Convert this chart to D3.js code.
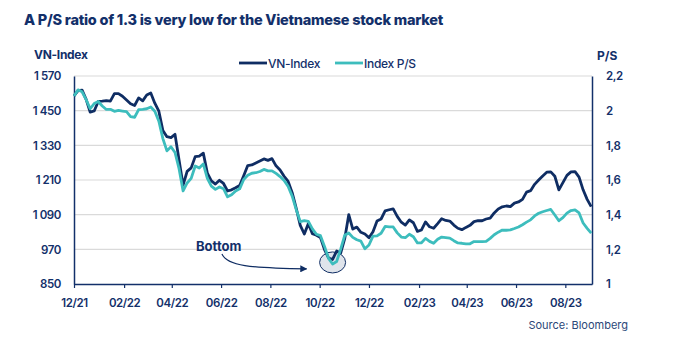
<!DOCTYPE html>
<html>
<head>
<meta charset="utf-8">
<script src="https://cdn.jsdelivr.net/npm/d3@7"></script>
<style>
  html, body { margin: 0; padding: 0; background: #ffffff; }
  svg { display: block; font-family: Inter, "Open Sans", sans-serif; }
</style>
</head>
<body>
<svg id="chart" width="673" height="349"></svg>
<script>
// Observation grid: one value every 5 calendar days from 1 Dec 2021
const startDate = "2021-12-01";
const stepDays = 5;

// VN-Index level (left axis)
const vnIndex = [
  1501, 1519, 1521, 1489, 1445, 1449, 1482, 1483, 1485, 1483,
  1509, 1509, 1500, 1487, 1474, 1468, 1494, 1484, 1504, 1511,
  1476, 1448, 1381, 1360, 1357, 1368, 1279, 1192, 1240, 1252,
  1291, 1293, 1303, 1234, 1207, 1196, 1209, 1198, 1172, 1176,
  1183, 1191, 1225, 1260, 1262, 1269, 1276, 1283, 1278, 1284,
  1259, 1245, 1223, 1205, 1166, 1112, 1053, 1023, 1059, 1024,
  1019, 1011, 969, 940, 935, 964, 957, 1007, 1090, 1040,
  1047, 1029, 1023, 1010, 1031, 1068, 1075, 1103, 1107, 1110,
  1084, 1064, 1054, 1072, 1062, 1032, 1037, 1065, 1048, 1043,
  1059, 1076, 1070, 1068, 1054, 1043, 1038, 1046, 1053, 1066,
  1069, 1069, 1075, 1078, 1096, 1110, 1117, 1120, 1118, 1130,
  1134, 1143, 1168, 1173, 1195, 1210, 1224, 1237, 1238, 1223,
  1176, 1201, 1226, 1238, 1239, 1220, 1176, 1143, 1118
];

// Index price-to-sales ratio (right axis)
const indexPS = [
  2.085, 2.120, 2.109, 2.064, 2.011, 2.041, 2.053, 2.027, 2.007, 2.008,
  1.996, 2.002, 1.998, 1.994, 1.966, 1.962, 2.006, 2.008, 2.011, 2.021,
  1.997, 1.939, 1.839, 1.768, 1.792, 1.759, 1.665, 1.537, 1.583, 1.609,
  1.681, 1.669, 1.693, 1.610, 1.565, 1.546, 1.560, 1.550, 1.503, 1.515,
  1.537, 1.549, 1.603, 1.627, 1.639, 1.642, 1.649, 1.661, 1.653, 1.653,
  1.638, 1.620, 1.597, 1.563, 1.507, 1.429, 1.360, 1.365, 1.361, 1.318,
  1.287, 1.279, 1.217, 1.148, 1.115, 1.130, 1.201, 1.281, 1.294, 1.269,
  1.255, 1.247, 1.203, 1.225, 1.276, 1.278, 1.293, 1.332, 1.330, 1.329,
  1.295, 1.271, 1.267, 1.287, 1.273, 1.237, 1.238, 1.263, 1.246, 1.235,
  1.258, 1.271, 1.268, 1.265, 1.250, 1.237, 1.235, 1.232, 1.232, 1.245,
  1.245, 1.244, 1.246, 1.263, 1.284, 1.299, 1.311, 1.310, 1.312, 1.320,
  1.329, 1.342, 1.357, 1.370, 1.393, 1.408, 1.417, 1.424, 1.430, 1.398,
  1.365, 1.383, 1.409, 1.424, 1.428, 1.410, 1.352, 1.321, 1.293
];

// Axis ticks
const monthTicks = ["12/21", "02/22", "04/22", "06/22", "08/22", "10/22",
                    "12/22", "02/23", "04/23", "06/23", "08/23"];
const vnTicks = [850, 970, 1090, 1210, 1330, 1450, 1570];
const psTicks = [1, 1.2, 1.4, 1.6, 1.8, 2, 2.2];

// Texts
const titleText = "A P/S ratio of 1.3 is very low for the Vietnamese stock market";
const seriesNames = ["VN-Index", "Index P/S"];
const leftAxisTitle = "VN-Index";
const rightAxisTitle = "P/S";
const sourceText = "Source: Bloomberg";
const annotationText = "Bottom";
const bottomDate = "2022-10-17";   // date of the low point that the note circles
const bottomValue = 935;           // VN-Index at that low

(function draw() {
  const NAVY = "#0f2d63";
  const TEAL = "#3dbdbd";
  const INK = "#13306a";
  const GRID = "#dadada";

  const svg = d3.select("#chart");
  const plotLeft = 74, plotRight = 592, plotTop = 76, plotBottom = 284;

  const parseDay = d3.timeParse("%Y-%m-%d");
  const parseMonth = d3.timeParse("%m/%y");
  const t0 = parseDay(startDate);
  const dates = vnIndex.map((_, i) => d3.timeDay.offset(t0, i * stepDays));

  const x = d3.scaleTime()
    .domain([t0, parseDay("2023-09-03")])
    .range([plotLeft, plotRight]);
  const yL = d3.scaleLinear().domain([850, 1570]).range([plotBottom, plotTop]);
  const yR = d3.scaleLinear().domain([1, 2.2]).range([plotBottom, plotTop]);

  const locale = d3.formatLocale({decimal: ",", thousands: "\u00a0", grouping: [3], currency: ["", ""]});
  const fmtL = locale.format(",d");
  const fmtR = locale.format(".1~f");

  // Title
  svg.append("text")
    .attr("x", 24).attr("y", 25)
    .attr("fill", INK)
    .attr("font-size", 14.5).attr("font-weight", 800)
    .attr("letter-spacing", -0.25)
    .text(titleText);

  // Gridlines
  svg.append("g")
    .selectAll("line")
    .data(vnTicks.slice(1))
    .join("line")
    .attr("x1", plotLeft).attr("x2", plotRight)
    .attr("y1", d => yL(d)).attr("y2", d => yL(d))
    .attr("stroke", GRID).attr("stroke-width", 1.2);

  // Left axis labels
  const gL = svg.append("g")
    .attr("transform", `translate(${plotLeft},0)`)
    .call(d3.axisLeft(yL).tickValues(vnTicks).tickFormat(fmtL).tickSize(0).tickPadding(13));
  gL.select(".domain").attr("stroke", INK).attr("stroke-width", 1.5);

  // Right axis labels
  const gR = svg.append("g")
    .attr("transform", `translate(${plotRight},0)`)
    .call(d3.axisRight(yR).tickValues(psTicks).tickFormat(fmtR).tickSize(0).tickPadding(14));
  gR.select(".domain").attr("stroke", INK).attr("stroke-width", 1.5);

  // Bottom axis
  const gX = svg.append("g")
    .attr("transform", `translate(0,${plotBottom})`)
    .call(d3.axisBottom(x)
      .tickValues(monthTicks.map(parseMonth))
      .tickFormat(d3.timeFormat("%m/%y"))
      .tickSize(4).tickSizeOuter(0).tickPadding(8));
  gX.select(".domain").attr("stroke", INK).attr("stroke-width", 1.5);
  gX.selectAll(".tick line").attr("stroke", INK).attr("stroke-width", 1.2);

  svg.selectAll(".tick text")
    .attr("fill", INK)
    .attr("font-size", 11.5)
    .attr("font-weight", 600)
    .attr("letter-spacing", -0.4)
    .attr("font-family", "Inter, sans-serif");
  gX.selectAll(".tick text").attr("dy", "0.95em");

  // Ellipse around the low point
  const ex = x(parseDay(bottomDate)), ey = yL(bottomValue) + 3;
  svg.append("ellipse")
    .attr("cx", ex).attr("cy", ey)
    .attr("rx", 13).attr("ry", 10.5)
    .attr("fill", "#dfe4eb")
    .attr("stroke", NAVY).attr("stroke-width", 1);

  // Series lines
  const lineVN = d3.line().x((d, i) => x(dates[i])).y(d => yL(d));
  const linePS = d3.line().x((d, i) => x(dates[i])).y(d => yR(d));

  svg.append("path")
    .datum(vnIndex)
    .attr("d", lineVN)
    .attr("fill", "none").attr("stroke", NAVY)
    .attr("stroke-width", 2.8).attr("stroke-linejoin", "round");

  svg.append("path")
    .datum(indexPS)
    .attr("d", linePS)
    .attr("fill", "none").attr("stroke", TEAL)
    .attr("stroke-width", 2.8).attr("stroke-linejoin", "round");

  // Annotation text and curved arrow
  svg.append("text")
    .attr("x", 196).attr("y", 251)
    .attr("fill", INK).attr("font-size", 13).attr("font-weight", 700)
    .text(annotationText);

  svg.append("defs").append("marker")
    .attr("id", "arrowHead")
    .attr("viewBox", "0 0 10 10")
    .attr("refX", 9).attr("refY", 5)
    .attr("markerWidth", 7).attr("markerHeight", 7)
    .attr("markerUnits", "userSpaceOnUse")
    .attr("orient", "auto")
    .append("path").attr("d", "M0,0 L10,5 L0,10 Z").attr("fill", NAVY);

  svg.append("path")
    .attr("d", `M222,254 C227,266 250,268 ${ex - 26},${ey + 6.5}`)
    .attr("fill", "none").attr("stroke", NAVY).attr("stroke-width", 1.2)
    .attr("marker-end", "url(#arrowHead)");

  // Axis titles
  svg.append("text")
    .attr("x", 34).attr("y", 59)
    .attr("fill", INK).attr("font-size", 12).attr("font-weight", 700)
    .attr("letter-spacing", -0.3)
    .text(leftAxisTitle);
  svg.append("text")
    .attr("x", 597).attr("y", 60)
    .attr("fill", INK).attr("font-size", 12).attr("font-weight", 700)
    .text(rightAxisTitle);

  // Legend
  const legend = svg.append("g");
  const legendItems = [
    {name: seriesNames[0], color: NAVY, x: 239},
    {name: seriesNames[1], color: TEAL, x: 335}
  ];
  legendItems.forEach(item => {
    legend.append("line")
      .attr("x1", item.x).attr("x2", item.x + 28)
      .attr("y1", 63).attr("y2", 63)
      .attr("stroke", item.color).attr("stroke-width", 2.8);
    legend.append("text")
      .attr("x", item.x + 29).attr("y", 67.5)
      .attr("fill", INK).attr("font-size", 12).attr("font-weight", 500)
      .attr("letter-spacing", -0.3)
      .text(item.name);
  });

  // Source
  svg.append("text")
    .attr("x", 628).attr("y", 329)
    .attr("text-anchor", "end")
    .attr("fill", "#2b4778").attr("font-size", 11)
    .text(sourceText);
})();
</script>
</body>
</html>
